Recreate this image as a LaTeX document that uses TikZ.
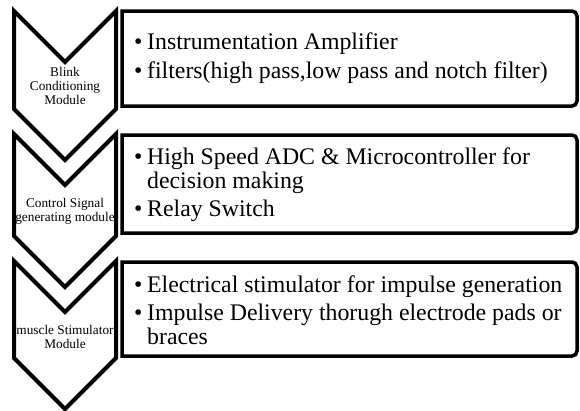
\documentclass[tikz,border=0pt]{standalone}
\usepackage{fontspec}
\setmainfont{Liberation Serif}
\tikzset{
  chevron/.style={draw, line width=4pt, fill=white},
  infobox/.style={draw, line width=3.5pt, fill=white},
  modtext/.style={font=\fontsize{13.3}{14}\selectfont, align=center, inner sep=0pt},
  boxtext/.style={font=\fontsize{23.8}{23.5}\selectfont, align=left, inner sep=0pt, anchor=west}
}
\newcommand{\itm}{\makebox[13pt][l]{\textbullet}}
\newcommand{\cont}{\hspace*{13pt}}
\begin{document}
\begin{tikzpicture}[x=1pt, y=-1pt]
    \useasboundingbox (0,0) rectangle (580,410);

    % chevrons
    \draw[chevron] (14,11) -- (65,62) -- (116,11) -- (116,109) -- (65,160) -- (14,109) -- cycle;
    \draw[chevron] (14,134) -- (65,185) -- (116,134) -- (116,236) -- (65,287) -- (14,236) -- cycle;
    \draw[chevron] (14,261) -- (65,312) -- (116,261) -- (116,358) -- (65,409) -- (14,358) -- cycle;

    % boxes, rounded on the right only
    \draw[infobox] [rounded corners=5pt] (340,11) -- (577,11) -- (577,106) -- (340,106) [sharp corners] -- (122,106) -- (122,11) -- cycle;
    \draw[infobox] [rounded corners=5pt] (340,135) -- (577,135) -- (577,233) -- (340,233) [sharp corners] -- (122,233) -- (122,135) -- cycle;
    \draw[infobox] [rounded corners=5pt] (340,262) -- (577,262) -- (577,356) -- (340,356) [sharp corners] -- (122,356) -- (122,262) -- cycle;

    \node[modtext] (mod1) at (65,86) {Blink\\Conditioning\\Module};
    \node[modtext] (mod2) at (65,211) {Control Signal\\generating module};
    \node[modtext] (mod3) at (65,337) {muscle Stimulator\\Module};

    \node[boxtext] (info1) at (134,58) {\itm Instrumentation Amplifier\\[5pt]
        \itm filters(high pass,low pass and notch filter)};
    \node[boxtext] (info2) at (134,185) {\itm High Speed ADC \& Microcontroller for\\
        \cont decision making\\[5pt]
        \itm Relay Switch};
    \node[boxtext] (info3) at (134,310) {\itm Electrical stimulator for impulse generation\\[5pt]
        \itm Impulse Delivery thorugh electrode pads or\\
        \cont braces};
\end{tikzpicture}
\end{document}
